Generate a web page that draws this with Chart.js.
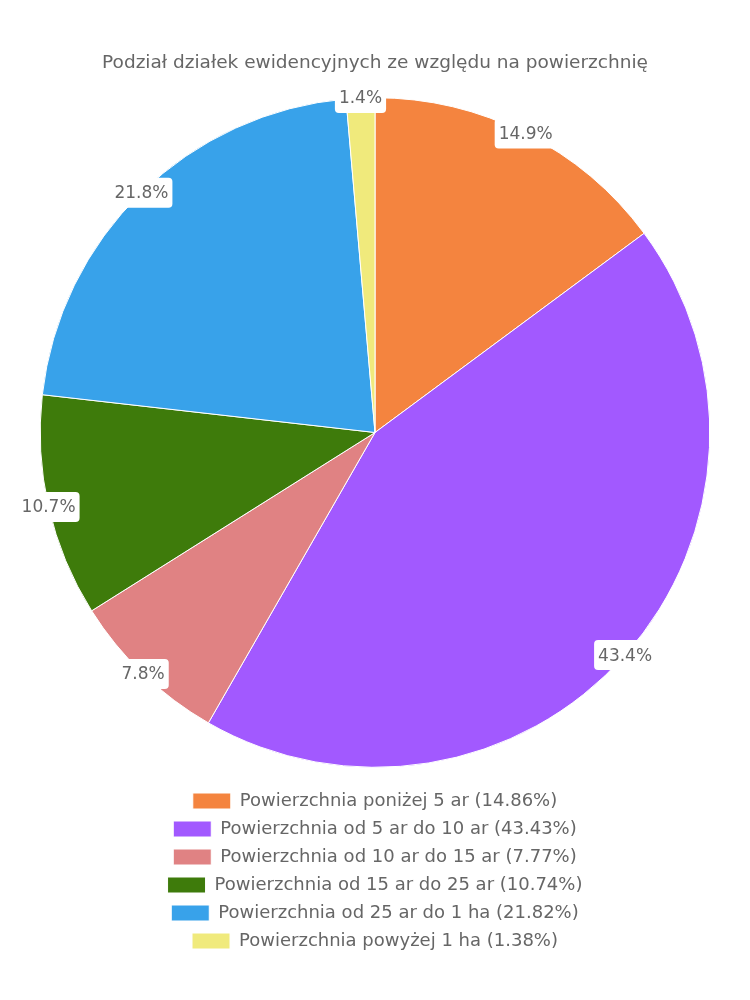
<!DOCTYPE html>
<html>
<head>
<meta charset="utf-8">
<script src="https://cdn.jsdelivr.net/npm/chart.js@4"></script>
<style>
  body { margin: 0; background: #fff; }
  #wrap { width: 750px; height: 1000px; }
</style>
</head>
<body>
<div id="wrap"><canvas id="pieChart"></canvas></div>
<script>
const chartTitle = 'Podział działek ewidencyjnych ze względu na powierzchnię';
const categories = [
    'Powierzchnia poniżej 5 ar',
    'Powierzchnia od 5 ar do 10 ar',
    'Powierzchnia od 10 ar do 15 ar',
    'Powierzchnia od 15 ar do 25 ar',
    'Powierzchnia od 25 ar do 1 ha',
    'Powierzchnia powyżej 1 ha'
];
const shares = [14.86, 43.43, 7.77, 10.74, 21.82, 1.38];
const sliceColors = ['#f4843f', '#a259ff', '#e08283', '#3e7b0b', '#38a2ea', '#f0ea7c'];

const fontFamily = '"DejaVu Sans", sans-serif';

// etykiety procentowe w białych ramkach na krawędzi wycinka
const edgeLabels = {
    id: 'edgeLabels',
    afterDraw(chart) {
        const ctx = chart.ctx;
        const meta = chart.getDatasetMeta(0);
        ctx.save();
        ctx.font = '17px ' + fontFamily;
        ctx.textAlign = 'center';
        ctx.textBaseline = 'middle';
        meta.data.forEach((arc, i) => {
            const mid = (arc.startAngle + arc.endAngle) / 2;
            const x = arc.x + Math.cos(mid) * arc.outerRadius;
            const y = arc.y + Math.sin(mid) * arc.outerRadius;
            const text = shares[i].toFixed(1) + '%';
            const w = ctx.measureText(text).width + 8;
            const h = 30;
            ctx.fillStyle = '#fff';
            ctx.beginPath();
            ctx.roundRect(x - w / 2, y - h / 2, w, h, 4);
            ctx.fill();
            ctx.fillStyle = '#666';
            ctx.fillText(text, x, y + 1);
        });
        ctx.restore();
    }
};

new Chart(document.getElementById('pieChart'), {
    type: 'pie',
    data: {
        labels: categories.map((c, i) => c + ' (' + shares[i] + '%)'),
        datasets: [{
            data: shares,
            backgroundColor: sliceColors,
            borderColor: '#fff',
            borderWidth: 1
        }]
    },
    options: {
        responsive: true,
        maintainAspectRatio: false,
        animation: false,
        layout: { padding: { top: 40, bottom: 40 } },
        plugins: {
            title: {
                display: true,
                text: chartTitle,
                color: '#666',
                font: { family: fontFamily, size: 18.5, weight: 'normal' },
                padding: { top: 12, bottom: 23 }
            },
            legend: {
                position: 'bottom',
                // pusty tytuł legendy = odstęp między kołem a legendą
                title: {
                    display: true,
                    text: '',
                    font: { size: 1 },
                    padding: { top: 0, bottom: 13 }
                },
                labels: {
                    color: '#666',
                    font: { family: fontFamily, size: 18 },
                    boxWidth: 38,
                    boxHeight: 16,
                    padding: 10
                }
            },
            tooltip: { enabled: false }
        }
    },
    plugins: [edgeLabels]
});
</script>
</body>
</html>
